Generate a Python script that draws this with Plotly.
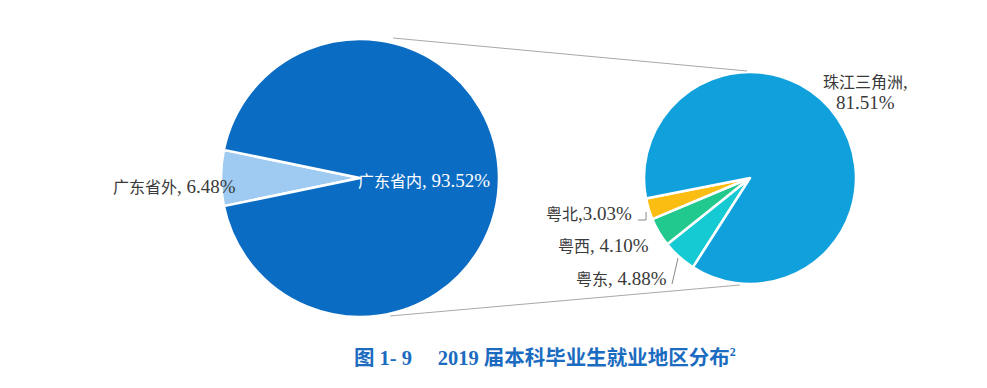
import plotly.graph_objects as go

W, H = 987, 388
OFF = 8  # page body margin of the browser
FW, FH = W - OFF, H - OFF

# ---- data ----
outer_labels = ["广东省外", "广东省内"]
outer_values = [6.48, 93.52]
inner_labels = ["粤东", "粤西", "粤北", "珠江三角洲"]
inner_values = [4.88, 4.10, 3.03, 81.51]
title_main = "图 1- 9\u3000 2019 届本科毕业生就业地区分布"
title_note = "2"

# ---- style ----
outer_colors = ["#9fcbf3", "#0b6cc4"]
inner_colors = ["#16cad4", "#22c98f", "#fbbd12", "#10a0db"]
text_color = "#3a3a3a"
title_color = "#1b6cc0"
FONT = "Liberation Serif, 'Noto Sans CJK SC', serif"


def fx(px):
    return (px - OFF) / FW


def fy(py):
    return 1 - (py - OFF) / FH


big_c, big_r = (360, 178), 139
small_c, small_r = (750, 178), 106


def dom(c, r):
    return dict(x=[fx(c[0] - r), fx(c[0] + r)], y=[fy(c[1] + r), fy(c[1] - r)])


big_total = sum(outer_values)
big_rot = 270 - outer_values[0] / big_total * 360 / 2
small_total = sum(inner_values)
small_rot = 258.8 - sum(inner_values[:3]) / small_total * 360

fig = go.Figure()
fig.add_trace(go.Pie(
    labels=outer_labels, values=outer_values, sort=False, direction="clockwise",
    rotation=big_rot, textinfo="none", hoverinfo="label+percent",
    marker=dict(colors=outer_colors, line=dict(color="white", width=2.5)),
    domain=dom(big_c, big_r), showlegend=False,
))
fig.add_trace(go.Pie(
    labels=inner_labels, values=inner_values, sort=False, direction="clockwise",
    rotation=small_rot, textinfo="none", hoverinfo="label+value",
    marker=dict(colors=inner_colors, line=dict(color="white", width=2.5)),
    domain=dom(small_c, small_r), showlegend=False,
))

shapes = []


def seg(x0, y0, x1, y1, w=1.0, color="#a8a8a8"):
    shapes.append(dict(type="line", xref="paper", yref="paper",
                       x0=fx(x0), y0=fy(y0), x1=fx(x1), y1=fy(y1),
                       line=dict(color=color, width=w)))


# connector lines between the two pies
seg(393, 38, 747, 71)
seg(390, 316, 740, 285)
# leader lines
seg(638, 220, 646, 220, 1, "#888888")
seg(646, 220, 646, 212, 1, "#888888")
seg(672, 284, 678, 258, 1, "#888888")

annotations = []


def ann(text, x, y, xanchor, color=text_color, size=16, bold=False):
    annotations.append(dict(
        text=text, x=fx(x), y=fy(y), xref="paper", yref="paper",
        xanchor=xanchor, yanchor="middle", showarrow=False,
        font=dict(family=FONT, size=size, color=color,
                  weight="bold" if bold else "normal"),
    ))


def num(s):
    return f"<span style='font-size:19px'>{s}</span>"


def pct(v):
    return f"{v:.2f}%"


ann(f"{outer_labels[0]}{num(', ' + pct(outer_values[0]))}", 111, 186, "left")
ann(f"{outer_labels[1]}{num(', ' + pct(outer_values[1]))}", 356, 180, "left", color="white")
ann(f"{inner_labels[3]}{num(',')}<br>{num(pct(inner_values[3]))}", 865, 92, "center")
ann(f"{inner_labels[2]}{num(',' + pct(inner_values[2]))}", 634, 213, "right")
ann(f"{inner_labels[1]}{num(', ' + pct(inner_values[1]))}", 651, 245, "right")
ann(f"{inner_labels[0]}{num(', ' + pct(inner_values[0]))}", 669, 278, "right")
ann(f"{title_main}<sup><span style='font-size:12px'>{title_note}</span></sup>",
    545, 357, "center", color=title_color, size=20.5, bold=True)

fig.update_layout(
    width=FW, height=FH, margin=dict(l=0, r=0, t=0, b=0),
    paper_bgcolor="white", plot_bgcolor="white",
    shapes=shapes, annotations=annotations,
)

fig.write_html("out.html")
